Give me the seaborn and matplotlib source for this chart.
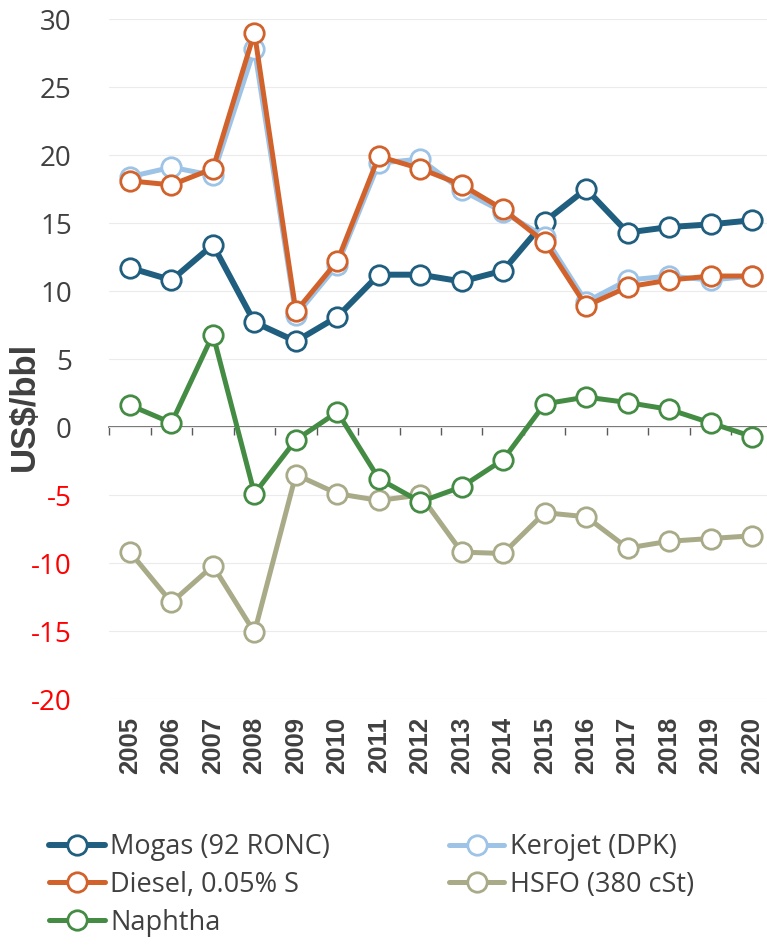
import numpy as np
import pandas as pd
import matplotlib
matplotlib.use("Agg")
import matplotlib.pyplot as plt
import seaborn as sns

years = list(range(2005, 2021))
mogas = [11.7, 10.8, 13.4, 7.7, 6.3, 8.1, 11.2, 11.2, 10.7, 11.5, 15.1, 17.5, 14.3, 14.7, 14.9, 15.2]
kerojet = [18.4, 19.1, 18.5, 27.8, 8.2, 11.9, 19.4, 19.7, 17.4, 15.8, 14.0, 9.2, 10.8, 11.1, 10.8, 11.1]
diesel = [18.1, 17.8, 19.0, 29.0, 8.5, 12.2, 19.9, 19.0, 17.8, 16.0, 13.6, 8.9, 10.3, 10.8, 11.1, 11.1]
hsfo = [-9.2, -12.9, -10.2, -15.1, -3.5, -4.9, -5.4, -5.0, -9.2, -9.3, -6.3, -6.6, -8.9, -8.4, -8.2, -8.0]
naphtha = [1.6, 0.3, 6.8, -4.9, -0.95, 1.1, -3.8, -5.5, -4.4, -2.4, 1.7, 2.2, 1.8, 1.3, 0.3, -0.7]

series = ["Mogas (92 RONC)", "Kerojet (DPK)", "Diesel, 0.05% S", "HSFO (380 cSt)", "Naphtha"]
values = [mogas, kerojet, diesel, hsfo, naphtha]
colors = ["#1F5E7E", "#9DC3E6", "#D2622B", "#A9AB88", "#448C43"]
widths = [4.3, 3.6, 3.6, 3.6, 3.6]

df = pd.DataFrame({
    "year": years * len(series),
    "value": sum(values, []),
    "product": np.repeat(series, len(years)),
})

sns.set_style("white")
plt.rcParams["font.family"] = ["Open Sans", "DejaVu Sans"]
plt.rcParams["axes.unicode_minus"] = False

fig = plt.figure(figsize=(7.67, 9.47), dpi=100)
ax = fig.add_axes([109.3 / 767, 1 - 699 / 947, 663.4 / 767, 680 / 947])

for name, col, lw in zip(series, colors, widths):
    sns.lineplot(
        data=df[df["product"] == name], x="year", y="value", ax=ax,
        color=col, lw=lw, marker="o", ms=14, mfc="white", mec=col, mew=2,
        label=name, sort=False,
    )

ax.set_xlim(2004.5, 2020.5)
ax.set_ylim(-20, 30)
ax.set_yticks(range(-20, 31, 5))
ax.grid(axis="y", color="#EBEBEB", lw=0.8)
ax.set_axisbelow(True)
for s in ax.spines.values():
    s.set_visible(False)

ax.set_xticks(years)
ax.set_xticklabels([str(y) for y in years], rotation=90, fontweight="bold",
                   family="Liberation Sans", fontsize=18.5, color="#404040")
ax.tick_params(axis="x", length=0, pad=13)
ax.tick_params(axis="y", length=0, pad=27, labelsize=20, labelcolor="#404040")
for t in ax.get_yticklabels():
    if t.get_text().startswith(("-", "\u2212")):
        t.set_color("#FF0000")

ax.set_xlabel("")
ax.set_ylabel("US$/bbl", fontsize=25, fontweight="bold", color="#404040",
              family="Liberation Sans")
ax.yaxis.set_label_coords((41 - 109.3) / 663.4, (699 - 406) / 680)

# zero line with category tick marks
sec = ax.secondary_xaxis(0, transform=ax.transData)
sec.set_xticks(np.arange(2004.5, 2021, 1.0))
sec.tick_params(axis="x", length=6, width=1, color="#595959", direction="out",
                labelbottom=False)
sec.spines["bottom"].set_color("#595959")
sec.spines["bottom"].set_linewidth(1.2)

handles, labels = ax.get_legend_handles_labels()
order = [0, 2, 4, 1, 3]
ax.legend([handles[i] for i in order], [labels[i] for i in order],
          ncol=2, loc="upper left", bbox_to_anchor=(49 / 767, 1 - 833 / 947),
          bbox_transform=fig.transFigure, frameon=False, fontsize=19.5,
          handlelength=2.05, handletextpad=0.2, columnspacing=4.4,
          labelspacing=0.36, borderpad=0, borderaxespad=0, labelcolor="#404040")

plt.savefig("out.png", dpi=100)
